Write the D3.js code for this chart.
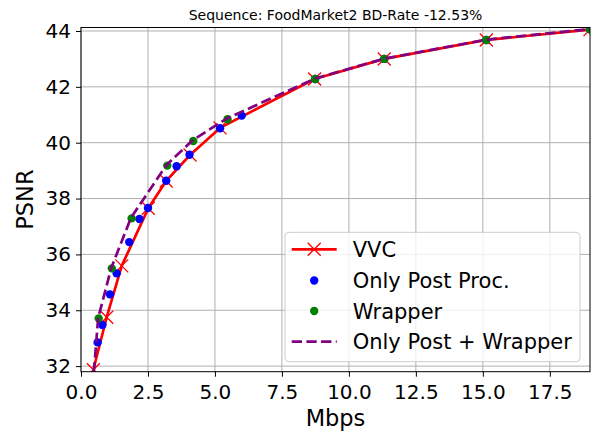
<!DOCTYPE html>
<html><head><meta charset="utf-8">
<script src="https://cdn.jsdelivr.net/npm/d3@7"></script>
<style>body{margin:0;background:#fff;} svg{display:block;font-family:"DejaVu Sans",sans-serif;}</style>
</head><body>
<svg id="c" width="597" height="436"></svg>
<script>
const title = "Sequence: FoodMarket2 BD-Rate -12.53%";
const xTicks = [0, 2.5, 5, 7.5, 10, 12.5, 15, 17.5];
const yTicks = [32, 34, 36, 38, 40, 42, 44];
const seriesNames = ["VVC", "Only Post Proc.", "Wrapper", "Only Post + Wrapper"];

const vvcRate = [0.46, 0.96, 1.52, 2.51, 3.18, 4.07, 5.19, 8.72, 11.32, 15.13, 19.0];
const vvcPsnr = [31.87, 33.75, 35.59, 37.65, 38.63, 39.56, 40.53, 42.28, 43.00, 43.68, 44.05];

const postRate = [0.62, 0.80, 1.08, 1.33, 1.80, 2.18, 2.50, 3.18, 3.57, 4.05, 5.19, 6.00, 8.74, 11.32, 15.13, 19.0];
const postPsnr = [32.85, 33.47, 34.57, 35.32, 36.44, 37.27, 37.66, 38.64, 39.16, 39.57, 40.52, 40.97, 42.28, 43.00, 43.68, 44.06];

const wrapRate = [0.66, 1.15, 1.89, 3.22, 4.19, 5.47, 8.74, 11.32, 15.13, 19.0];
const wrapPsnr = [33.71, 35.50, 37.29, 39.18, 40.06, 40.84, 42.28, 43.00, 43.68, 44.06];

const bothRate = [0.48, 0.64, 1.13, 1.87, 3.20, 4.17, 5.45, 8.74, 11.32, 15.13, 19.0];
const bothPsnr = [31.78, 33.72, 35.52, 37.32, 39.21, 40.09, 40.87, 42.30, 43.01, 43.69, 44.07];

const svg = d3.select("#c");
const L = 81, R = 590, T = 27.5, B = 371.7;
const x = d3.scaleLinear().domain([0, 19.0]).range([L, R]);
const y = d3.scaleLinear().domain([31.8, 44.125]).range([B, T]);

svg.append("defs").append("clipPath").attr("id","clip")
  .append("rect").attr("x",L).attr("y",T).attr("width",R-L).attr("height",B-T);

// grid
const g = svg.append("g");
g.selectAll(".gx").data(xTicks).enter().append("line")
  .attr("x1",d=>x(d)).attr("x2",d=>x(d)).attr("y1",T).attr("y2",B)
  .attr("stroke","#b0b0b0").attr("stroke-width",1);
g.selectAll(".gy").data(yTicks).enter().append("line")
  .attr("y1",d=>y(d)).attr("y2",d=>y(d)).attr("x1",L).attr("x2",R)
  .attr("stroke","#b0b0b0").attr("stroke-width",1);

// axes
const xa = svg.append("g").attr("transform",`translate(0,${B})`)
  .call(d3.axisBottom(x).tickValues(xTicks).tickFormat(d3.format(".1f")).tickSize(5).tickSizeOuter(0));
const ya = svg.append("g").attr("transform",`translate(${L},0)`)
  .call(d3.axisLeft(y).tickValues(yTicks).tickFormat(d3.format("d")).tickSize(5).tickSizeOuter(0));
[xa, ya].forEach(a => {
  a.select(".domain").remove();
  a.selectAll("text").attr("font-size", 20).attr("fill","#000").attr("font-family","DejaVu Sans");
  a.selectAll("line").attr("stroke","#000").attr("stroke-width",1);
});
xa.selectAll("text").attr("dy","0.95em");
ya.selectAll("text").attr("dx","-0.1em");

const plot = svg.append("g").attr("clip-path","url(#clip)");
const line = d3.line().x(d=>x(d[0])).y(d=>y(d[1]));

const vvc = d3.zip(vvcRate, vvcPsnr);
const post = d3.zip(postRate, postPsnr);
const wrap = d3.zip(wrapRate, wrapPsnr);
const both = d3.zip(bothRate, bothPsnr);

plot.append("path").datum(vvc).attr("d",line).attr("fill","none")
  .attr("stroke","#ff0000").attr("stroke-width",2.7).attr("stroke-linejoin","round");
const xm = 6.5;
plot.selectAll(".xm").data(vvc).enter().append("path")
  .attr("d",d=>{const cx=x(d[0]),cy=y(d[1]);return `M${cx-xm},${cy-xm}L${cx+xm},${cy+xm}M${cx-xm},${cy+xm}L${cx+xm},${cy-xm}`;})
  .attr("stroke","#ff0000").attr("stroke-width",1.3).attr("fill","none");
plot.selectAll(".pb").data(post).enter().append("circle")
  .attr("cx",d=>x(d[0])).attr("cy",d=>y(d[1])).attr("r",4.2).attr("fill","#0000ff");
plot.selectAll(".pg").data(wrap).enter().append("circle")
  .attr("cx",d=>x(d[0])).attr("cy",d=>y(d[1])).attr("r",4.2).attr("fill","#008000");
plot.append("path").datum(both).attr("d",line).attr("fill","none")
  .attr("stroke","#800080").attr("stroke-width",2.7).attr("stroke-dasharray","10.3,4.4");

// spines
svg.append("rect").attr("x",L).attr("y",T).attr("width",R-L).attr("height",B-T)
  .attr("fill","none").attr("stroke","#000").attr("stroke-width",1);

// title & labels
svg.append("text").attr("x",(L+R)/2).attr("y",20).attr("text-anchor","middle")
  .attr("font-size",14).text(title);
svg.append("text").attr("x",(L+R)/2).attr("y",426).attr("text-anchor","middle")
  .attr("font-size",22.5).text("Mbps");
svg.append("text").attr("transform",`translate(33,${(T+B)/2}) rotate(-90)`).attr("text-anchor","middle")
  .attr("font-size",22.5).text("PSNR");

// legend
const lg = svg.append("g");
lg.append("rect").attr("x",285).attr("y",232.3).attr("width",295).attr("height",129.4)
  .attr("rx",4).attr("fill","#fff").attr("fill-opacity",0.8).attr("stroke","#cccccc").attr("stroke-width",1);
const rowY = [249.3, 280.5, 311, 341.7];
const lx1 = 291.7, lx2 = 336.7, tx = 352.7;
// VVC
lg.append("line").attr("x1",lx1).attr("x2",lx2).attr("y1",rowY[0]).attr("y2",rowY[0]).attr("stroke","#ff0000").attr("stroke-width",2.7);
{const cx=(lx1+lx2)/2, cy=rowY[0];
 lg.append("path").attr("d",`M${cx-xm},${cy-xm}L${cx+xm},${cy+xm}M${cx-xm},${cy+xm}L${cx+xm},${cy-xm}`).attr("stroke","#ff0000").attr("stroke-width",1.3);}
lg.append("circle").attr("cx",(lx1+lx2)/2).attr("cy",rowY[1]).attr("r",4.2).attr("fill","#0000ff");
lg.append("circle").attr("cx",(lx1+lx2)/2).attr("cy",rowY[2]).attr("r",4.2).attr("fill","#008000");
lg.append("line").attr("x1",lx1).attr("x2",lx2).attr("y1",rowY[3]).attr("y2",rowY[3]).attr("stroke","#800080").attr("stroke-width",2.7).attr("stroke-dasharray","10.3,4.4");
lg.selectAll(".lt").data(seriesNames).enter().append("text")
  .attr("x",tx).attr("y",(d,i)=>rowY[i]).attr("dy","0.36em").attr("font-size",21).text(d=>d);
</script>
</body></html>
